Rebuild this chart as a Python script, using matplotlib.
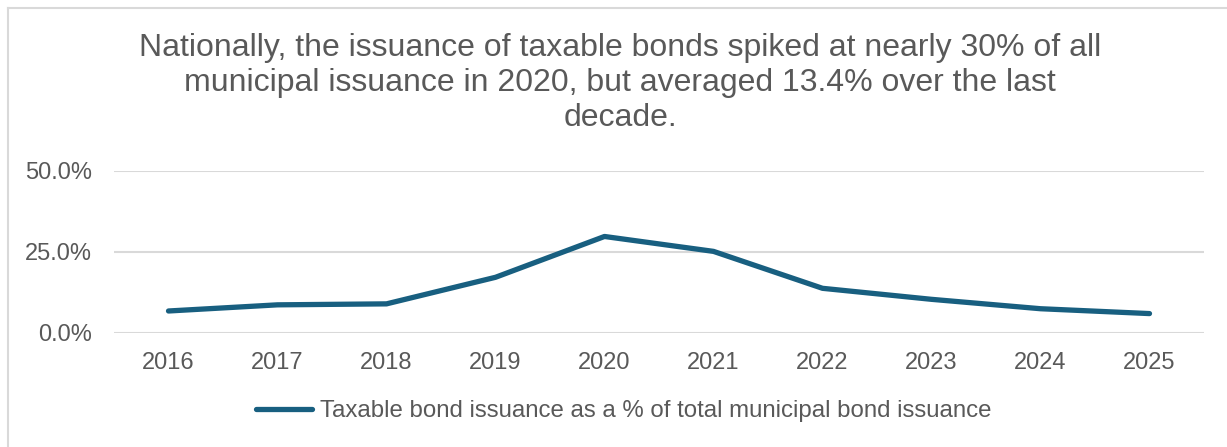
import matplotlib.pyplot as plt
from matplotlib.lines import Line2D
from matplotlib.ticker import FuncFormatter

# Data
years = ['2016', '2017', '2018', '2019', '2020', '2021', '2022', '2023', '2024', '2025']
taxable_share = [6.7, 8.6, 8.9, 17.1, 29.7, 25.1, 13.7, 10.3, 7.4, 5.9]
y_ticks = [0, 25, 50]

title = ("Nationally, the issuance of taxable bonds spiked at nearly 30% of all\n"
         "municipal issuance in 2020, but averaged 13.4% over the last\n"
         "decade.")
series_label = "Taxable bond issuance as a % of total municipal bond issuance"

LINE_COLOR = '#185f80'
TEXT_COLOR = '#595959'
GRID_COLOR = '#d9d9d9'

plt.rcParams['font.family'] = ['Liberation Sans', 'DejaVu Sans']

W, H = 1227, 447
fig = plt.figure(figsize=(W / 100, H / 100), dpi=100)
ax = fig.add_axes([114 / W, 1 - 332.7 / H, (1204 - 114) / W, (332.7 - 170.7) / H])

x = range(len(years))
ax.plot(x, taxable_share, color=LINE_COLOR, lw=3.8, solid_capstyle='round',
        solid_joinstyle='round', label=series_label, zorder=3)

ax.set_xlim(-0.5, len(years) - 0.5)
ax.set_ylim(0, 50)
ax.set_yticks(y_ticks)
ax.yaxis.set_major_formatter(FuncFormatter(lambda v, _: f'{v:.1f}%'))
ax.set_xticks(list(x))
ax.set_xticklabels(years)

ax.grid(axis='y', color=GRID_COLOR, lw=1.5, zorder=0)
ax.set_axisbelow(True)
for s in ax.spines.values():
    s.set_visible(False)
ax.tick_params(axis='both', length=0, labelsize=17, colors=TEXT_COLOR)
ax.tick_params(axis='y', pad=16)
ax.tick_params(axis='x', pad=14)

fig.text(620 / W, 1 - 83 / H, title, ha='center', va='center', fontsize=23,
         color=TEXT_COLOR, linespacing=1.22)

handle = Line2D([0], [0], color=LINE_COLOR, lw=3.8, solid_capstyle='round')
fig.legend([handle], [series_label], loc='center', bbox_to_anchor=(624 / W, 1 - 411 / H),
           frameon=False, fontsize=17.3, labelcolor=TEXT_COLOR, handlelength=2.3,
           handletextpad=0.35)

# chart-area border (visible only on top and left in the reference)
fig.add_artist(Line2D([7.5 / W, 7.5 / W], [0, 1 - 7.5 / H], color=GRID_COLOR, lw=1.5))
fig.add_artist(Line2D([7.5 / W, 1], [1 - 7.5 / H, 1 - 7.5 / H], color=GRID_COLOR, lw=1.5))

fig.savefig('out.png', dpi=100, facecolor='white')
